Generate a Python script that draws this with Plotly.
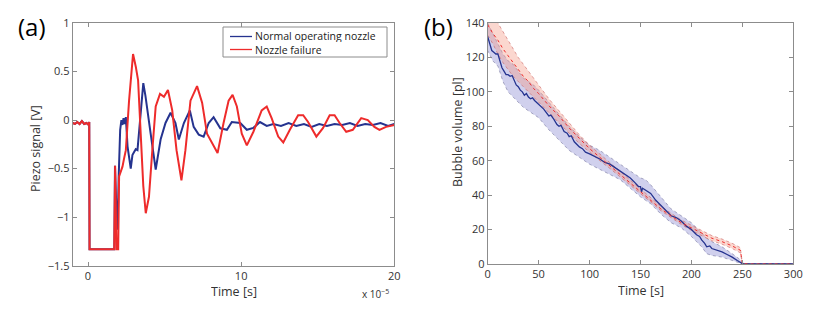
import plotly.graph_objects as go

# page body has an 8px margin; figure is sized to fill the rest of the 814x311 window
OFF = 8
W, H = 814 - OFF, 311 - OFF

# ---------- Panel (a): piezo signal (time in units of 1e-5 s) ----------
a_blue_t = [-1.0, -0.85, -0.7, -0.55, -0.4, -0.25, -0.1, 0.05, 0.08, 0.1, 1.72, 1.76, 1.85, 1.93, 2.0,
            2.1, 2.18, 2.25, 2.32, 2.4, 2.47, 2.58, 2.79, 2.9, 3.01, 3.12, 3.23, 3.44, 3.61, 3.75, 3.87,
            4.09, 4.42, 4.74, 5.06, 5.39, 5.71, 5.93, 6.26, 6.65, 6.9, 7.23, 7.55, 7.88, 8.2, 8.64, 9.07,
            9.39, 9.94, 10.37, 10.8, 11.23, 11.67, 12.1, 12.6, 13.1, 13.6, 14.1, 14.6, 15.1, 15.6, 16.1,
            16.6, 17.1, 17.6, 18.1, 18.6, 19.1, 19.6, 20.0]
a_blue_v = [-0.03, -0.04, -0.02, -0.04, -0.01, -0.04, -0.03, -0.05, -0.02, -1.33, -1.33, -0.47, -0.9, -1.13, -0.6,
            -0.1, 0.0, -0.05, 0.02, -0.04, 0.03, -0.27, -0.5, -0.36, -0.33, -0.3, -0.31, 0.1, 0.38, 0.25, 0.1,
            -0.14, -0.51, -0.2, -0.03, 0.075, -0.03, -0.2, -0.03, 0.1, -0.07, -0.15, -0.17, -0.03, 0.03, -0.085, -0.1,
            -0.02, -0.03, -0.1, -0.08, -0.02, -0.06, -0.04, -0.06, -0.03, -0.06, -0.04, -0.07, -0.04, -0.06, -0.04,
            -0.05, -0.03, -0.06, -0.04, -0.05, -0.03, -0.06, -0.04]

a_red_t = [-1.0, -0.85, -0.7, -0.55, -0.4, -0.25, -0.1, 0.05, 0.08, 0.1, 1.71, 1.77, 1.86, 1.97, 2.03,
           2.15, 2.25, 2.35, 2.47, 2.68, 2.9, 2.94, 3.12, 3.27, 3.44, 3.61, 3.77, 3.98, 4.2, 4.42, 4.7,
           4.96, 5.22, 5.5, 5.78, 6.1, 6.36, 6.69, 7.12, 7.45, 7.77, 8.2, 8.46, 8.85, 9.18, 9.44, 9.72,
           10.04, 10.37, 10.8, 11.34, 11.67, 11.99, 12.42, 12.75, 13.18, 13.72, 14.05, 14.37, 14.91, 15.35,
           15.78, 16.1, 16.43, 16.86, 17.29, 17.84, 18.27, 18.7, 19.03, 19.46, 20.0]
a_red_v = [-0.03, -0.04, -0.02, -0.04, -0.01, -0.04, -0.03, -0.05, -0.02, -1.33, -1.33, -0.47, -1.33, -1.33, -0.58,
           -0.52, -0.48, -0.4, -0.31, 0.2, 0.66, 0.68, 0.55, 0.41, -0.14, -0.68, -0.96, -0.79, -0.31, 0.14, 0.27,
           0.24, 0.31, 0.1, -0.31, -0.62, -0.31, 0.2, 0.35, 0.18, -0.14, -0.27, -0.34, -0.03, 0.2, 0.26, 0.14,
           -0.14, -0.26, -0.12, 0.1, 0.14, 0.02, -0.17, -0.23, -0.1, 0.05, 0.05, -0.02, -0.17, -0.08,
           0.05, 0.05, -0.03, -0.12, -0.1, 0.02, 0.0, -0.07, -0.1, -0.07, -0.05]

a_xticks = [0, 10, 20]
a_yticks = [-1.5, -1, -0.5, 0, 0.5, 1]
a_yticktext = ["\u22121.5", "\u22121", "\u22120.5", "0", "0.5", "1"]
a_legend_names = ["Normal operating nozzle", "Nozzle failure"]

# ---------- Panel (b): bubble volume ----------
b_mean_t = [0, 2, 4, 6, 8, 10, 12, 14, 16, 18, 20, 22, 24, 26, 28, 30, 32, 34, 36, 38, 40, 42, 44, 46, 48,
            50, 55, 60, 62, 65, 68, 70, 72, 75, 78, 80, 82, 85, 88, 90, 93, 96, 100, 105, 110, 115, 120, 125,
            130, 135, 140, 145, 148, 150, 151, 152, 155, 158, 160, 165, 170, 175, 180, 185, 190, 195, 200, 205,
            208, 210, 213, 215, 218, 220, 225, 230, 235, 240, 245, 250, 255, 300]
b_blue_mean = [132, 128, 124, 123, 122, 122, 118, 114, 112, 110, 110, 109, 109.5, 107, 104, 103, 101, 100, 98, 99,
               97, 96, 96.5, 95, 94, 93, 90, 86, 86.5, 84, 81, 80, 80.5, 77, 76, 74, 74.5, 71, 69, 68, 67, 65, 64,
               62.5, 61, 59, 58, 56, 54, 52, 50, 47, 45, 45, 42, 44, 43, 42, 41, 37, 34, 31, 28, 27, 25, 22, 20, 17,
               16, 14, 12, 10, 10.5, 9, 8, 7, 5.5, 4, 2, 0.2, 0, 0]

b_t = [0, 5, 10, 15, 20, 25, 30, 35, 40, 45, 50, 60, 70, 80, 90, 100, 110, 120, 130, 140, 150, 155,
       160, 170, 180, 190, 200, 210, 215, 220, 230, 240, 248, 250, 255, 300]
b_blue_hi = [140, 134, 128, 122, 118, 116, 112, 108, 106, 104, 101, 94, 87, 80, 74, 69, 66, 62, 58, 54, 50, 49,
             46, 39, 32, 28, 24, 18, 15, 13, 10, 6, 2.5, 0.5, 0, 0]
b_blue_lo = [124, 118, 115, 106, 100, 97, 94, 91, 89, 87, 85, 78, 72, 66, 62, 58, 55, 52, 49, 44, 39, 37,
             35, 29, 24, 21, 16, 10, 6, 5, 4, 2, 0.5, 0, 0, 0]
b_red_mean = [139, 134, 130, 125, 121, 117, 113, 109, 106, 102, 99, 92, 86, 79, 73, 67, 62, 57, 52, 47, 42, 40,
              37, 32, 28, 24, 21, 18, 16.5, 15, 13, 10.5, 8, 0.3, 0, 0]
b_red_hi = [146, 143, 140, 135, 130, 125, 120, 116, 112, 108, 104, 96, 89, 82, 75, 69, 64, 58.5, 53.5, 48.5, 43.5, 41,
            38.5, 33.5, 29.5, 25.5, 22.5, 19.5, 18, 16.5, 14.5, 12, 9.5, 0.5, 0, 0]
b_red_lo = [133, 128, 122, 117, 113, 109, 106, 103, 100, 97, 94, 88, 82, 76, 70, 65, 60, 55.5, 50.5, 45.5, 40.5, 38.5,
            36, 31, 27, 23, 19.5, 16.5, 15, 13.5, 11.5, 9, 6.5, 0, 0, 0]

b_xticks = [0, 50, 100, 150, 200, 250, 300]
b_yticks = [0, 20, 40, 60, 80, 100, 120, 140]

BLUE = "#25338f"
RED = "#ee2b2b"
FONT = "Open Sans"
TXT = "#333333"


def px(x):
    return (x - OFF) / W


def py(y):
    return 1 - (y - OFF) / H


fig = go.Figure()

# panel a
fig.add_trace(go.Scatter(x=a_blue_t, y=a_blue_v, mode="lines", name=a_legend_names[0],
                         line=dict(color=BLUE, width=2), xaxis="x", yaxis="y", showlegend=False))
fig.add_trace(go.Scatter(x=a_red_t, y=a_red_v, mode="lines", name=a_legend_names[1],
                         line=dict(color=RED, width=2), xaxis="x", yaxis="y", showlegend=False))

# panel b bands
fig.add_trace(go.Scatter(x=b_t + b_t[::-1], y=b_blue_hi + b_blue_lo[::-1], mode="lines", fill="toself",
                         fillcolor="rgba(150,150,215,0.45)", line=dict(color="rgba(110,110,150,0.7)", width=0.8, dash="dot"),
                         showlegend=False, hoverinfo="skip", xaxis="x2", yaxis="y2"))
fig.add_trace(go.Scatter(x=b_t + b_t[::-1], y=b_red_hi + b_red_lo[::-1], mode="lines", fill="toself",
                         fillcolor="rgba(245,150,130,0.38)", line=dict(color="rgba(200,90,90,0.7)", width=0.8, dash="dot"),
                         showlegend=False, hoverinfo="skip", xaxis="x2", yaxis="y2"))
fig.add_trace(go.Scatter(x=b_mean_t, y=b_blue_mean, mode="lines", line=dict(color=BLUE, width=1.3),
                         showlegend=False, xaxis="x2", yaxis="y2"))
fig.add_trace(go.Scatter(x=b_t, y=b_red_mean, mode="lines", line=dict(color=RED, width=1, dash="dot"),
                         showlegend=False, xaxis="x2", yaxis="y2"))

axis_common = dict(showline=True, linecolor="#8c8c8c", linewidth=1, mirror="ticks", ticks="inside",
                   ticklen=4, tickcolor="#8c8c8c", showgrid=False, zeroline=False, automargin=False,
                   tickfont=dict(family=FONT, size=11, color=TXT))

# manual legend for panel (a)
shapes = [
    dict(type="rect", xref="paper", yref="paper", x0=px(223), x1=px(387), y0=py(57), y1=py(27),
         line=dict(color="#8c8c8c", width=1), fillcolor="white", layer="above"),
    dict(type="line", xref="paper", yref="paper", x0=px(230), x1=px(252), y0=py(36.5), y1=py(36.5),
         line=dict(color=BLUE, width=1.3), layer="above"),
    dict(type="line", xref="paper", yref="paper", x0=px(230), x1=px(252), y0=py(49.5), y1=py(49.5),
         line=dict(color=RED, width=1.3), layer="above"),
]


def ann(text, x, y, size, color=TXT, angle=0, xanchor="center", height=None):
    d = dict(text=text, x=px(x), y=py(y), xref="paper", yref="paper", showarrow=False,
             font=dict(family=FONT, size=size, color=color), xanchor=xanchor, yanchor="middle",
             textangle=angle)
    if height:
        d["height"] = height
    return d


annotations = [
    ann(a_legend_names[0], 253, 36.5, 10.5, "#222222", xanchor="left", height=12),
    ann(a_legend_names[1], 253, 49.5, 10.5, "#222222", xanchor="left", height=12),
    ann("(a)", 32, 26, 24, "black"),
    ann("(b)", 438, 26, 24, "black"),
    ann("x 10<sup>\u22125</sup>", 375, 294, 10),
    ann("Time [s]", 233.5, 291, 12.5, height=14),
    ann("Time [s]", 640.5, 290, 12.5, height=14),
    ann("Piezo signal [V]", 35, 148, 12.5, angle=-90),
    ann("Bubble volume [pl]", 457, 132, 12.5, angle=-90),
]

fig.update_layout(
    width=W, height=H, margin=dict(l=0, r=0, t=0, b=0, autoexpand=False),
    paper_bgcolor="white", plot_bgcolor="white",
    font=dict(family=FONT, color=TXT),
    showlegend=False,
    xaxis=dict(domain=[px(72.7), px(394.3)], range=[-1, 20], tickvals=a_xticks, anchor="y", **axis_common),
    yaxis=dict(domain=[py(265.7), py(23)], range=[-1.5, 1], tickvals=a_yticks, ticktext=a_yticktext,
               anchor="x", **axis_common),
    xaxis2=dict(domain=[px(487.7), px(793.3)], range=[0, 300], tickvals=b_xticks, anchor="y2", **axis_common),
    yaxis2=dict(domain=[py(264), py(23)], range=[0, 140], tickvals=b_yticks, anchor="x2", **axis_common),
    shapes=shapes,
    annotations=annotations,
)

fig.write_html("out.html")
